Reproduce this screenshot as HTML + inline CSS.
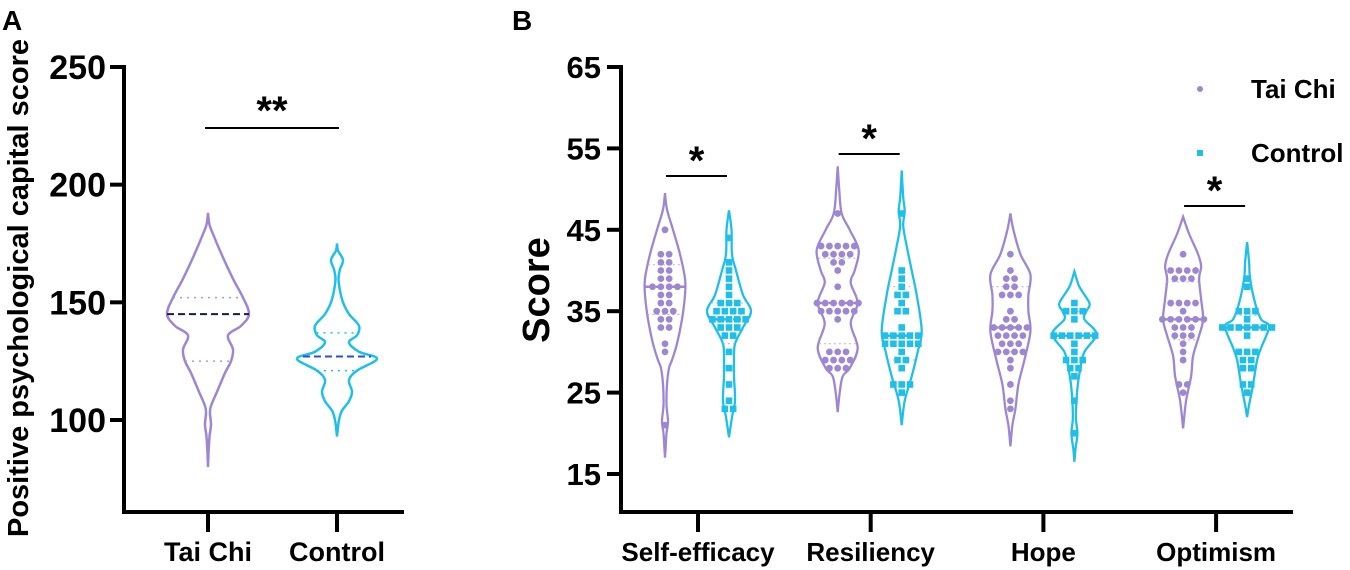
<!DOCTYPE html>
<html><head><meta charset="utf-8"><style>
body{margin:0;background:#fff;}
svg{display:block;font-family:"Liberation Sans",Arial,sans-serif;}
</style></head><body>
<svg id="chart" width="1350" height="570" viewBox="0 0 1350 570">
<text x="2" y="30" font-size="28" font-weight="bold">A</text>
<text x="512" y="30" font-size="28" font-weight="bold">B</text>
<g id="gA"></g>
<g id="gB"></g>
</svg>
<script>
// ---------- Panel A data ----------
const aCategories = ["Tai Chi", "Control"];
const aTicks = [100, 150, 200, 250];
const aShapeTaiChi = [[188,0],[183,1.5],[178,6],[170,14],[160,25],[152,35],[145,41],[140,33],[136,20],[130,25],[125,23],[120,17],[112,9],[106,3],[103,2],[98,3],[93,1.5],[86,0.5],[80,0]];
const aShapeControl = [[175,0],[172,1],[168,6],[164,3],[160,1.5],[155,3],[150,6],[145,12],[140,22],[136,20],[133,12],[129,22],[126,40],[121,20],[117,12],[112,15],[108,12],[104,5],[100,2],[95,0.5],[93,0]];
const aMedians = [145, 127];
const aQuartiles = [[152,125],[137,121]];

// ---------- Panel B data ----------
const bCategories = ["Self-efficacy","Resiliency","Hope","Optimism"];
const bTicks = [15,25,35,45,55,65];
const bShapesTaiChi = [
 [[49.5,0],[47.5,2],[45,8],[42,15],[39,20],[37,20],[34,17],[31,12],[29,7],[28,4],[26,2],[23.5,1.5],[21.5,3],[20,1.5],[18,0.5],[17,0]],
 [[52.8,0],[50,1.5],[47,4],[45,12],[42.5,21],[40,17],[38.5,13],[36,20],[33.5,13],[30.5,20],[28,12],[27,5],[25,2],[22.6,0]],
 [[47,0],[45,3],[42,10],[39.5,20],[37,18],[35,18],[32.5,20],[29,14],[26,8],[23,5],[21,2],[18.4,0]],
 [[46.6,0],[44.5,6],[42,15],[40.5,18],[39,16],[36.5,18],[34,20],[32,16],[29.5,10],[27,8],[24,3],[20.6,0]]
];
const bShapesControl = [
 [[47.4,0],[45,2.5],[42,3],[40,7],[37,14],[35,22],[33,14],[31,6],[29,5],[27,5],[24,6],[22,3],[19.5,0]],
 [[52.3,0],[49,1.5],[47.3,3],[45.5,1.5],[43,5],[40,10],[37,15],[32.6,20],[30,16],[27,10],[24,3],[21,0]],
 [[39.9,0],[38,5],[36,15],[35,12],[34,10],[32.2,22],[30,10],[28,6],[25.5,3],[22,1.5],[20,3],[18,1],[16.5,0]],
 [[43.5,0],[41,2],[39,3],[36,8],[34,14],[33.1,22],[30.5,14],[29,10],[26,6],[23.5,2],[22,0]]
];
const bMediansTaiChi = [38,36,33,34];
const bMediansControl = [34,32,32,33];
const bQuartTaiChi = [[40.7,34.6],[41.5,31],[38,30],[38.6,31.5]];
const bQuartControl = [[36,31],[38,29],[35,29],[34.5,29]];
const bDotsTaiChi = [
 [45,42,42,41,41,40,40,39,39,38,38,38,38,37,37,36,36,35,35,35,34,34,33,33,31,30,21],
 [47,43,43,43,43,43,42,42,42,42,41,41,40,38,36,36,36,36,36,36,35,35,35,35,35,34,30,30,30,29,29,29,29,28,28,28],
 [42,40,39,39,38,38,37,37,37,35,34,34,33,33,33,33,33,32,32,32,32,31,31,31,30,30,30,30,29,28,26,24,23],
 [42,40,40,40,40,39,39,39,36,36,36,36,35,34,34,34,34,34,34,33,33,33,32,32,32,31,30,29,26,26,25]
];
const bDotsControl = [
 [44,41,40,39,38,37,36,36,36,35,35,35,35,34,34,34,34,34,33,33,33,32,32,30,28,26,24,23,23],
 [47,40,39,38,37,37,36,35,35,33,32,32,32,32,32,31,31,31,31,31,30,29,29,28,26,26,26,25],
 [36,35,35,35,34,32,32,32,32,32,32,31,30,29,29,29,28,28,27,24,20],
 [39,38,35,35,35,34,33,33,33,33,33,33,33,32,30,30,30,29,29,28,28,26,26,25]
];

const PURPLE="#9d87d2", CYAN="#1fbfea";
const NS="http://www.w3.org/2000/svg";
function mk(tag, attrs, parent){const e=document.createElementNS(NS,tag);for(const k in attrs)e.setAttribute(k,attrs[k]);parent.appendChild(e);return e;}
function smooth(pts){let d="M"+pts[0][0]+","+pts[0][1];
 for(let i=0;i<pts.length-1;i++){const p0=pts[Math.max(0,i-1)],p1=pts[i],p2=pts[i+1],p3=pts[Math.min(pts.length-1,i+2)];
  const c1=[p1[0]+(p2[0]-p0[0])/6,p1[1]+(p2[1]-p0[1])/6],c2=[p2[0]-(p3[0]-p1[0])/6,p2[1]-(p3[1]-p1[1])/6];
  d+=" C"+c1[0]+","+c1[1]+" "+c2[0]+","+c2[1]+" "+p2[0]+","+p2[1];}
 return d;}
function violinPath(shape,cx,yf){const r=shape.map(s=>[cx+s[1],yf(s[0])]);const l=shape.slice().reverse().map(s=>[cx-s[1],yf(s[0])]);
 return smooth(r)+" L"+smooth(l).slice(1)+" Z";}
function halfAt(shape,v){for(let i=0;i<shape.length-1;i++){const a=shape[i],b=shape[i+1];if(v<=a[0]&&v>=b[0]){const t=(a[0]-v)/(a[0]-b[0]||1);return a[1]+t*(b[1]-a[1]);}}return 0;}

// ---------- Panel A ----------
const gA=document.getElementById('gA');
const aY=v=>67+(250-v)*(420-67)/150;
const aX=i=>[208,337][i];
mk('line',{x1:124,y1:65,x2:124,y2:513,stroke:'#000','stroke-width':4},gA);
mk('line',{x1:122,y1:512,x2:404,y2:512,stroke:'#000','stroke-width':4},gA);
aTicks.forEach(t=>{const y=aY(t);
 const l=mk('line',{x1:110,y1:y,x2:124,y2:y,stroke:'#000','stroke-width':4},gA);
 
 const tx=mk('text',{x:106,y:y+12,'text-anchor':'end','font-size':34,'font-weight':'bold'},gA);tx.textContent=t;
 });
aCategories.forEach((c,i)=>{const x=aX(i);
 const l=mk('line',{x1:x,y1:512,x2:x,y2:532,stroke:'#000','stroke-width':4},gA);
 
 const tx=mk('text',{x:x,y:561,'text-anchor':'middle','font-size':27,'font-weight':'bold'},gA);tx.textContent=c;
 });
const aT=mk('text',{x:0,y:0,transform:'translate(28,288) rotate(-90)','text-anchor':'middle','font-size':29,'font-weight':'bold'},gA);
aT.textContent="Positive psychological capital score";

[aShapeTaiChi,aShapeControl].forEach((sh,i)=>{const col=i?CYAN:PURPLE;
 const p=mk('path',{d:violinPath(sh,aX(i),aY),fill:'none',stroke:col,'stroke-width':2.5},gA);
 
 const m=aMedians[i],hm=halfAt(sh,m);
 const ml=mk('line',{x1:aX(i)-hm,x2:aX(i)+hm,y1:aY(m),y2:aY(m),stroke:i?'#2a4fd6':'#1a1a4a','stroke-width':2,'stroke-dasharray':'7,4'},gA);
 
 aQuartiles[i].forEach(q=>{const hq=halfAt(sh,q);
  const ql=mk('line',{x1:aX(i)-hq,x2:aX(i)+hq,y1:aY(q),y2:aY(q),stroke:i?CYAN:'#a8a0b8','stroke-width':1.5,'stroke-dasharray':'2,5'},gA);
  });
});
mk('line',{x1:205,x2:339,y1:128,y2:128,stroke:'#000','stroke-width':2},gA);
const aS=mk('text',{x:272,y:124,'text-anchor':'middle','font-size':40,'font-weight':'bold'},gA);aS.textContent="**";


// ---------- Panel B ----------
const gB=document.getElementById('gB');
const bY=v=>474-(v-15)*(474-67)/50;
const bCenter=i=>698+i*172.7;
const bX=(i,g)=>bCenter(i)+(g?31:-33);
mk('line',{x1:621,y1:65,x2:621,y2:513,stroke:'#000','stroke-width':4},gB);
mk('line',{x1:619,y1:512,x2:1293,y2:512,stroke:'#000','stroke-width':4},gB);
bTicks.forEach(t=>{const y=bY(t);
 const l=mk('line',{x1:607,y1:y,x2:621,y2:y,stroke:'#000','stroke-width':4},gB);
 
 const tx=mk('text',{x:601,y:y+11,'text-anchor':'end','font-size':31,'font-weight':'bold'},gB);tx.textContent=t;
 });
bCategories.forEach((c,i)=>{const x=bCenter(i);
 const l=mk('line',{x1:x,y1:512,x2:x,y2:532,stroke:'#000','stroke-width':4},gB);
 
 const tx=mk('text',{x:x,y:561,'text-anchor':'middle','font-size':26,'font-weight':'bold'},gB);tx.textContent=c;
 });
const bT=mk('text',{x:0,y:0,transform:'translate(549,290) rotate(-90)','text-anchor':'middle','font-size':38,'font-weight':'bold'},gB);
bT.textContent="Score";


function drawGroup(i,g){const sh=(g?bShapesControl:bShapesTaiChi)[i],cx=bX(i,g),col=g?CYAN:PURPLE;
 const p=mk('path',{d:violinPath(sh,cx,bY),fill:'none',stroke:col,'stroke-width':2.3},gB);
 
 (g?bQuartControl:bQuartTaiChi)[i].forEach(q=>{const hq=halfAt(sh,q);
  const ql=mk('line',{x1:cx-hq,x2:cx+hq,y1:bY(q),y2:bY(q),stroke:'#b8b0c0','stroke-width':1,'stroke-dasharray':'2,3'},gB);
  });
 const m=(g?bMediansControl:bMediansTaiChi)[i],hm=halfAt(sh,m);
 const ml=mk('line',{x1:cx-hm,x2:cx+hm,y1:bY(m),y2:bY(m),stroke:col,'stroke-width':2.5,'stroke-dasharray':'8,3'},gB);
 
 const dots=(g?bDotsControl:bDotsTaiChi)[i];const counts={};
 dots.forEach(v=>counts[v]=(counts[v]||0)+1);
 Object.keys(counts).forEach(k=>{const v=+k,n=counts[k];
  for(let j=0;j<n;j++){const dx=(j-(n-1)/2)*8.3,y=bY(v);
   let d;
   if(g){d=mk('rect',{x:cx+dx-3.3,y:y-3.3,width:6.6,height:6.6,fill:col},gB);}
   else{d=mk('circle',{cx:cx+dx,cy:y,r:3.4,fill:col},gB);}
   
  }});
}
bCategories.forEach((c,i)=>{drawGroup(i,0);drawGroup(i,1);});
const sig=[[0,176],[1,154],[3,206]];
sig.forEach(s=>{const x1=bX(s[0],0)+1,x2=bX(s[0],1)-2;
 mk('line',{x1:x1,x2:x2,y1:s[1],y2:s[1],stroke:'#000','stroke-width':2},gB);
 const t=mk('text',{x:(x1+x2)/2,y:s[1]-2,'text-anchor':'middle','font-size':40,'font-weight':'bold'},gB);t.textContent="*";
 });
// legend
const lc=mk('circle',{cx:1200,cy:89,r:3,fill:PURPLE},gB);
const lt=mk('text',{x:1251,y:98,'font-size':26,'font-weight':'bold'},gB);lt.textContent="Tai Chi";
const lr=mk('rect',{x:1197,y:150,width:6,height:6,fill:CYAN},gB);
const lt2=mk('text',{x:1251,y:162,'font-size':26,'font-weight':'bold'},gB);lt2.textContent="Control";
</script>
</body></html>
